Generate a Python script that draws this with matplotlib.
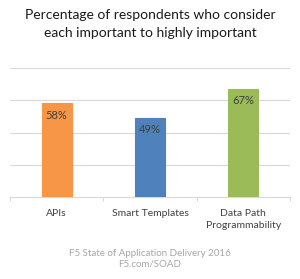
import matplotlib
matplotlib.use("Agg")
import matplotlib.pyplot as plt
import numpy as np

# data
categories = ["APIs", "Smart Templates", "Data Path\nProgrammability"]
values = [58, 49, 67]
value_labels = ["58%", "49%", "67%"]
colors = ["#F79646", "#4F81BD", "#9BBB59"]
grid_values = [20, 40, 60, 80]

plt.rcParams["font.family"] = ["Lato", "DejaVu Sans"]

W, H = 300, 279
fig = plt.figure(figsize=(W / 100, H / 100), dpi=100)
fig.patch.set_facecolor("white")

ax = fig.add_axes([10 / W, (H - 197) / H, 280 / W, (197 - 68) / H])
x = np.arange(len(categories))
ax.bar(x, values, width=0.32, color=colors, edgecolor=colors, linewidth=0.8, zorder=3)

for xi, v, lab in zip(x, values, value_labels):
    ax.annotate(lab, (xi, v), xytext=(0, -8.5), textcoords="offset points",
                ha="center", va="center", fontsize=8, color="#404040", zorder=4)

ax.set_xlim(-0.5, len(categories) - 0.5)
ax.set_ylim(0, 80)
ax.set_yticks(grid_values)
ax.yaxis.grid(True, color="#D9D9D9", linewidth=0.8, zorder=0)
ax.tick_params(axis="y", length=0, labelleft=False)

ax.set_xticks(x)
ax.set_xticklabels(categories, fontsize=7.5, color="#404040", linespacing=1.3)
ax.tick_params(axis="x", which="major", length=0, pad=9)
ax.set_xticks(np.arange(-0.5, len(categories)), minor=True)
ax.tick_params(axis="x", which="minor", length=3, color="#D9D9D9", width=0.8)

for side in ["top", "left", "right"]:
    ax.spines[side].set_visible(False)
ax.spines["bottom"].set_color("#D9D9D9")
ax.spines["bottom"].set_linewidth(0.8)

fig.text(0.5, 1 - 15 / H, "Percentage of respondents who consider",
         ha="center", va="center", fontsize=10, color="#1A1A1A")
fig.text(0.5, 1 - 33 / H, "each important to highly important",
         ha="center", va="center", fontsize=10, color="#1A1A1A")

fig.text(0.5, 1 - 254 / H, "F5 State of Application Delivery 2016",
         ha="center", va="center", fontsize=7, color="#A6A6A6")
fig.text(0.5, 1 - 264 / H, "F5.com/SOAD",
         ha="center", va="center", fontsize=7, color="#A6A6A6")

fig.savefig("out.png", dpi=100)
